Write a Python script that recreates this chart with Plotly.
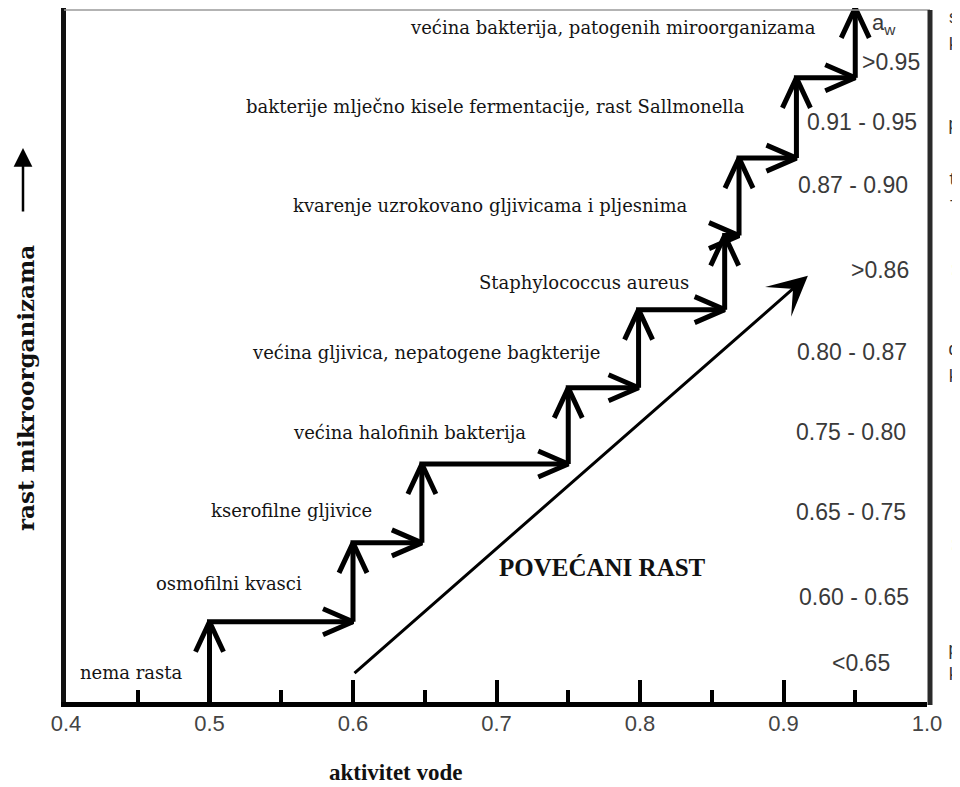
import plotly.graph_objects as go

# ---------------- data ----------------
aw_ticks = [0.4, 0.5, 0.6, 0.7, 0.8, 0.9, 1.0]
aw_tick_labels = ["0.4", "0.5", "0.6", "0.7", "0.8", "0.9", "1.0"]
aw_minor_ticks = [0.45, 0.55, 0.65, 0.75, 0.85, 0.95]

# water activity at each riser of the staircase and growth level reached
step_aw = [0.50, 0.60, 0.648, 0.75, 0.799, 0.859, 0.869, 0.909, 0.95]
step_growth = [11.6, 23.0, 34.4, 45.4, 56.7, 67.4, 78.6, 90.2, 100.3]

organisms = [
    "nema rasta",
    "osmofilni kvasci",
    "kserofilne gljivice",
    "većina halofinih bakterija",
    "većina gljivica, nepatogene bagkterije",
    "Staphylococcus aureus",
    "kvarenje uzrokovano gljivicama i pljesnima",
    "bakterije mlječno kisele fermentacije, rast Sallmonella",
    "većina bakterija, patogenih miroorganizama",
]
aw_ranges = ["<0.65", "0.60 - 0.65", "0.65 - 0.75", "0.75 - 0.80", "0.80 - 0.87",
             ">0.86", "0.87 - 0.90", "0.91 - 0.95", ">0.95"]

trend_aw = [0.600, 0.917]
trend_growth = [4.0, 61.6]

edge_fragments = ["s", "k", "p", "t", "l", ":", "d", "k", ":", "p", "k"]

# ---------------- layout geometry ----------------
# The page body has an 8px margin, so the figure is 8px smaller and all
# reference pixel positions below are in full-window coordinates.
OFF = 8
W, H = 960 - OFF, 787 - OFF
REF_LEFT, REF_RIGHT = 66, 927      # plot area x (window px)
REF_TOP, REF_BOT = 8, 702          # plot area y (window px)
FRAME_TOP = 10                     # window px of drawn top frame
ML, MR = REF_LEFT - OFF, 960 - REF_RIGHT
MT, MB = REF_TOP - OFF, 787 - REF_BOT
X_RANGE = [0.4, 1.0]
px_per_y = (REF_BOT - FRAME_TOP) / 100.0
Y_RANGE = [0, (REF_BOT - REF_TOP) / px_per_y]
px_per_x = (REF_RIGHT - REF_LEFT) / (X_RANGE[1] - X_RANGE[0])


def pxx(px):
    return (px - REF_LEFT) / (REF_RIGHT - REF_LEFT)


def pxy(py):
    return (REF_BOT - py) / (REF_BOT - REF_TOP)


# label placements (window pixel centres)
org_label_pos = [(131, 672), (229, 583), (291, 510), (409, 432), (426, 352),
                 (584, 282), (490, 205), (495, 107), (613, 28)]
range_label_pos = [(861, 663), (854, 597), (851, 512), (851, 432), (852, 352),
                   (880, 270), (853, 185), (862, 122), (891, 62)]
edge_frag_y = [18, 45, 125, 180, 208, 270, 350, 377, 545, 650, 675]

# ---------------- staircase ----------------
HEAD_LEN, HEAD_HALF = 30, 14
xs, ys = [step_aw[0]], [0.0]
hx, hy = [], []
n = len(step_aw)
for i in range(n):
    x, y = step_aw[i], step_growth[i]
    xs.append(x); ys.append(y)
    hx += [x - HEAD_HALF / px_per_x, x, x + HEAD_HALF / px_per_x, None]
    hy += [y - HEAD_LEN / px_per_y, y, y - HEAD_LEN / px_per_y, None]
    if i < n - 1:
        x2 = step_aw[i + 1]
        xs.append(x2); ys.append(y)
        xs.append(None); ys.append(None)
        xs.append(x2); ys.append(y)
        hx += [x2 - HEAD_LEN / px_per_x, x2, x2 - HEAD_LEN / px_per_x, None]
        hy += [y + (HEAD_HALF - 1) / px_per_y, y, y - (HEAD_HALF - 1) / px_per_y, None]

fig = go.Figure()
fig.add_trace(go.Scatter(x=xs, y=ys, mode="lines", line=dict(color="black", width=5),
                         hoverinfo="skip", showlegend=False))
fig.add_trace(go.Scatter(x=hx, y=hy, mode="lines", line=dict(color="black", width=5),
                         hoverinfo="skip", showlegend=False))

annotations = []
annotations.append(dict(x=trend_aw[1], y=trend_growth[1], ax=trend_aw[0], ay=trend_growth[0],
                        xref="x", yref="y", axref="x", ayref="y", text="", showarrow=True,
                        arrowhead=3, arrowsize=2.2, arrowwidth=3, arrowcolor="black", standoff=0))
annotations.append(dict(x=pxx(602), y=pxy(567), xref="paper", yref="paper",
                        text="POVEĆANI RAST", showarrow=False, xanchor="center", yanchor="middle",
                        font=dict(family="Liberation Serif", size=25, color="#111", weight="bold")))

for txt, (px, py) in zip(organisms, org_label_pos):
    annotations.append(dict(x=pxx(px), y=pxy(py), xref="paper", yref="paper", text=txt,
                            showarrow=False, xanchor="center", yanchor="middle",
                            font=dict(family="DejaVu Serif", size=18, color="#141414")))

for txt, (px, py) in zip(aw_ranges, range_label_pos):
    annotations.append(dict(x=pxx(px), y=pxy(py), xref="paper", yref="paper", text=txt,
                            showarrow=False, xanchor="center", yanchor="middle",
                            font=dict(family="Liberation Sans", size=23, color="#3a3a3a")))

annotations.append(dict(x=pxx(884), y=pxy(24), xref="paper", yref="paper", text="a<sub>w</sub>",
                        showarrow=False, xanchor="center", yanchor="middle",
                        font=dict(family="Liberation Sans", size=22, color="#3a3a3a")))

for txt, py in zip(edge_fragments, edge_frag_y):
    annotations.append(dict(x=pxx(946), y=pxy(py), xref="paper", yref="paper", text=txt,
                            showarrow=False, xanchor="left", yanchor="middle",
                            font=dict(family="Liberation Mono", size=18, color="#333")))

annotations.append(dict(x=pxx(396), y=pxy(773), xref="paper", yref="paper", text="aktivitet vode",
                        showarrow=False, xanchor="center", yanchor="middle",
                        font=dict(family="Liberation Serif", size=23, color="#111", weight="bold")))
annotations.append(dict(x=pxx(25), y=pxy(388), xref="paper", yref="paper",
                        text="rast mikroorganizama", textangle=-90,
                        showarrow=False, xanchor="center", yanchor="middle",
                        font=dict(family="DejaVu Serif", size=23, color="#111", weight="bold")))
annotations.append(dict(x=pxx(23), y=pxy(148), xref="paper", yref="paper", text="",
                        ax=0, ay=65, showarrow=True, arrowhead=2, arrowsize=1.5,
                        arrowwidth=2.5, arrowcolor="black", standoff=0))

shapes = [
    dict(type="line", xref="paper", yref="paper", x0=pxx(64), x1=pxx(930),
         y0=pxy(FRAME_TOP), y1=pxy(FRAME_TOP), line=dict(color="#9a9a9a", width=1.5)),
    dict(type="line", xref="paper", yref="paper", x0=pxx(930), x1=pxx(930), y0=pxy(705),
         y1=pxy(FRAME_TOP), line=dict(color="#2a2a2a", width=5)),
]

fig.update_layout(
    width=W, height=H,
    margin=dict(l=ML, r=MR, t=MT, b=MB, pad=0),
    paper_bgcolor="white", plot_bgcolor="white",
    showlegend=False,
    annotations=annotations,
    shapes=shapes,
    xaxis=dict(range=X_RANGE, tickmode="array", tickvals=aw_ticks, ticktext=aw_tick_labels,
               ticks="inside", ticklen=22, tickwidth=4, tickcolor="black",
               minor=dict(tickmode="array", tickvals=aw_minor_ticks, ticks="inside",
                          ticklen=12, tickwidth=3.5, tickcolor="black"),
               showline=True, linewidth=5, linecolor="black", showgrid=False, zeroline=False,
               tickfont=dict(family="Liberation Sans", size=22, color="#444"),
               ticklabelstandoff=-2, fixedrange=True),
    yaxis=dict(range=Y_RANGE, showticklabels=False, ticks="", showgrid=False, zeroline=False,
               showline=True, linewidth=5, linecolor="#111", fixedrange=True),
)

fig.write_html("out.html")
